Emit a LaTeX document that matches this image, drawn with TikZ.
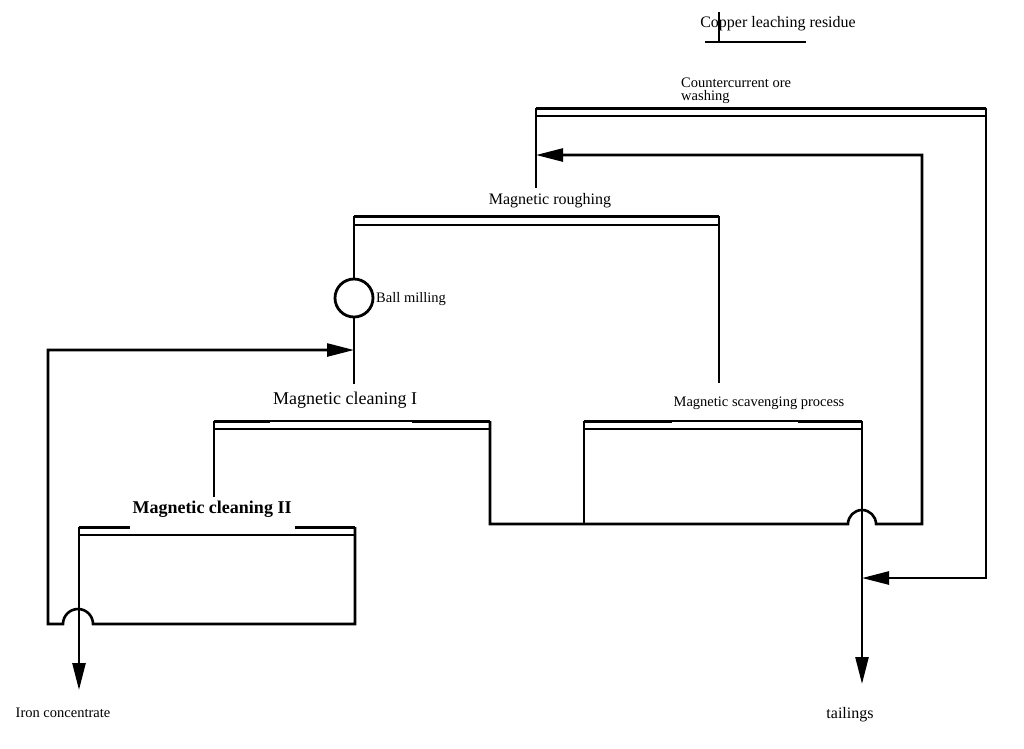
\documentclass[tikz,border=0pt]{standalone}
\usepackage{fontspec}
\setmainfont{Liberation Serif}
\usetikzlibrary{arrows.meta}
\tikzset{
	flow/.style={line width=2.8pt},
	bartop/.style={line width=3pt},
	barbot/.style={line width=2pt},
	feed/.style={line width=2.6pt, -{Triangle[length=27pt,width=13pt]}},
	lbl/.style={inner sep=0pt, font=\fontsize{14.5}{13}\selectfont},
	lblmid/.style={inner sep=0pt, font=\fontsize{16}{17}\selectfont},
	lblbig/.style={inner sep=0pt, font=\fontsize{18}{19}\selectfont},
}

\begin{document}
\begin{tikzpicture}[x=1pt, y=-1pt]
		\useasboundingbox (0,0) rectangle (1024,748);
		
		% upper line ends of each process bar
		\coordinate (washL) at (536,108);
		\coordinate (washR) at (986,108);
		\coordinate (roughL) at (354,216);
		\coordinate (roughR) at (719,216);
		\coordinate (clIL) at (214,421);
		\coordinate (clIR) at (490,421);
		\coordinate (scavL) at (584,421);
		\coordinate (scavR) at (862,421);
		\coordinate (clIIL) at (79,527);
		\coordinate (clIIR) at (355,527);
		
		\draw[bartop] (washL) -- (washR);
		\draw[barbot] ([yshift=-8pt]washL) -- ([yshift=-8pt]washR);
		\draw[bartop] (roughL) -- (roughR);
		\draw[barbot] ([yshift=-9pt]roughL) -- ([yshift=-9pt]roughR);
		\draw[bartop] (clIL) -- (270,421);
		\draw[barbot] (270,421) -- (412,421);
		\draw[bartop] (412,421) -- (clIR);
		\draw[barbot] ([yshift=-8pt]clIL) -- ([yshift=-8pt]clIR);
		\draw[bartop] (scavL) -- (672,421);
		\draw[barbot] (672,421) -- (798,421);
		\draw[bartop] (798,421) -- (scavR);
		\draw[barbot] ([yshift=-8pt]scavL) -- ([yshift=-8pt]scavR);
		\draw[bartop] (clIIL) -- (130,527);
		\draw[bartop] (295,527) -- (clIIR);
		\draw[barbot] ([yshift=-8pt]clIIL) -- ([yshift=-8pt]clIIR);
		
		% feed
		\draw[line width=2pt] (705,42) -- (806,42);
		\draw[line width=1.6pt] (719,12) -- (719,42);
		
		% ball mill between roughing and cleaning I
		\node[circle, draw, line width=2.8pt, minimum size=38pt, inner sep=0pt] (mill) at (354,298) {};
		\draw[flow] (roughL) -- (mill.north);
		\draw[flow] (mill.south) -- (354,384);
		
		\draw[flow] (washL) -- (536,188);
		\draw[flow] (roughR) -- (719,383);
		\draw[flow] (clIL) -- (214,497);
		\draw[flow] (scavL) -- (584,524);
		
		% middlings back to roughing
		\draw[feed] (clIR) -- (490,524) -- (848,524)
			arc[start angle=180, end angle=0, radius=14pt] -- (922,524) -- (922,155) -- (536,155);
		% cleaning II tailings back to the mill
		\draw[feed] (clIIR) -- (355,624) -- (93,624)
			arc[start angle=0, end angle=180, radius=15pt] -- (48,624) -- (48,350) -- (354,350);
		\draw[feed] (washR) -- (986,578) -- (862,578);
		
		% products
		\draw[feed] (clIIL) -- (79,690);
		\draw[feed] (scavR) -- (862,684);
		
		\node[lblmid] (copper) at (778,24) {Copper leaching residue};
		\node[lbl, anchor=north west, align=left] (wash) at (681,78) {Countercurrent ore\\washing};
		\node[lblmid] (rough) at (550,201) {Magnetic roughing};
		\node[lbl, anchor=west] (ball) at (376,299) {Ball milling};
		\node[lblbig] (clI) at (345,400) {Magnetic cleaning I};
		\node[lbl] (scav) at (759,403) {Magnetic scavenging process};
		\node[lblbig, font=\fontsize{18}{19}\selectfont\bfseries] (clII) at (212,509) {Magnetic cleaning II};
		\node[lbl] (iron) at (63,713) {Iron concentrate};
		\node[lblmid] (tail) at (850,715) {tailings};
	\end{tikzpicture}
\end{document}
